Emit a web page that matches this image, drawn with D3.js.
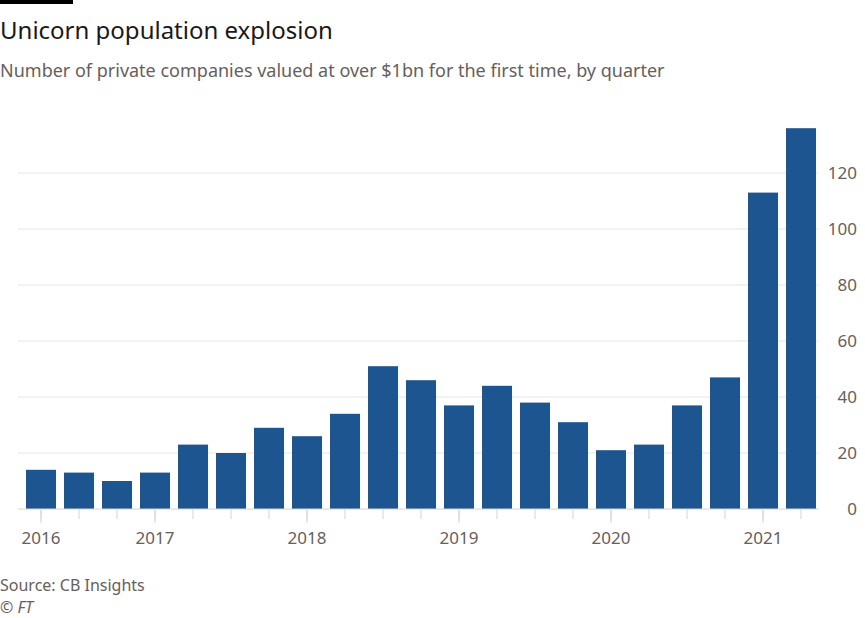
<!DOCTYPE html>
<html>
<head>
<meta charset="utf-8">
<script src="https://cdn.jsdelivr.net/npm/d3@7"></script>
<style>
  body { margin: 0; background: #fff; }
  svg text { font-family: "Noto Sans", "Open Sans", sans-serif; }
</style>
</head>
<body>
<div id="chart"></div>
<script>
// quarters, 2016 Q1 to 2021 Q1
const quarters = [
  '2016 Q1', '2016 Q2', '2016 Q3', '2016 Q4',
  '2017 Q1', '2017 Q2', '2017 Q3', '2017 Q4',
  '2018 Q1', '2018 Q2', '2018 Q3', '2018 Q4',
  '2019 Q1', '2019 Q2', '2019 Q3', '2019 Q4',
  '2020 Q1', '2020 Q2', '2020 Q3', '2020 Q4',
  '2021 Q1'
]
const unicorns = [14, 13, 10, 13, 23, 20, 29, 26, 34, 51, 46, 37, 44, 38, 31, 21, 23, 37, 47, 113, 136]
// year labels sit on these bars
const yearTickAt = ['2016 Q1', '2016 Q4', '2017 Q4', '2018 Q4', '2019 Q4', '2020 Q4']
const yearLabels = ['2016', '2017', '2018', '2019', '2020', '2021']
const yTicks = [0, 20, 40, 60, 80, 100, 120]

const w = 865
const h = 618
const margin = { top: 110, right: 45, bottom: 109, left: 22 }
const height = h - margin.top - margin.bottom

const svg = d3.select('#chart').append('svg')
  .attr('width', w)
  .attr('height', h)

svg.append('rect').attr('x', 0).attr('y', 0).attr('width', 73).attr('height', 4).attr('fill', '#000')

svg.append('text')
  .attr('x', 0).attr('y', 39)
  .attr('font-size', 24)
  .attr('fill', '#1a1817')
  .text('Unicorn population explosion')

svg.append('text')
  .attr('x', 0).attr('y', 77)
  .attr('font-size', 18)
  .attr('fill', '#66605c')
  .text('Number of private companies valued at over $1bn for the first time, by quarter')

svg.append('text')
  .attr('x', 0).attr('y', 591)
  .attr('font-size', 16)
  .attr('fill', '#66605c')
  .text('Source: CB Insights')

svg.append('text')
  .attr('x', 0).attr('y', 613)
  .attr('font-size', 16)
  .attr('font-style', 'italic')
  .attr('fill', '#66605c')
  .text('© FT')

const g = svg.append('g').attr('transform', 'translate(' + margin.left + ',' + margin.top + ')')

const x = d3.scaleBand()
  .domain(quarters)
  .range([0, 798])
  .paddingInner(0.21)
  .paddingOuter(0.105)

const y = d3.scaleLinear().domain([0, 140]).range([height, height - 140 * 2.8])

// gridlines
g.append('g')
  .selectAll('line')
  .data(yTicks.filter(d => d > 0))
  .enter().append('line')
  .attr('x1', -4).attr('x2', 797)
  .attr('y1', d => y(d)).attr('y2', d => y(d))
  .attr('stroke', '#e8e6e3')
  .attr('stroke-width', 1)

// y axis on the right
const yAxis = g.append('g')
  .attr('transform', 'translate(' + (w - margin.left) + ',0)')
  .call(d3.axisLeft(y).tickValues(yTicks).tickSize(0).tickPadding(1))
yAxis.select('.domain').remove()
yAxis.selectAll('text')
  .attr('font-size', 17)
  .attr('fill', '#66605c')
  .attr('text-anchor', 'end')
  .attr('dx', -7)

g.selectAll('.bar')
  .data(unicorns)
  .enter().append('rect')
  .attr('class', 'bar')
  .attr('x', (d, i) => x(quarters[i]))
  .attr('width', x.bandwidth())
  .attr('y', d => y(d))
  .attr('height', d => y(0) - y(d))
  .attr('fill', '#1d5590')

// baseline
g.append('line')
  .attr('x1', -4).attr('x2', 797)
  .attr('y1', y(0)).attr('y2', y(0))
  .attr('stroke', '#d6d3cf')

// x ticks
const xAxis = g.append('g')
  .attr('transform', 'translate(0,' + (height + 1) + ')')
  .call(d3.axisBottom(x).tickSize(9).tickFormat(''))
xAxis.select('.domain').remove()
xAxis.selectAll('line').attr('stroke', '#d6d3cf')

const xYears = g.append('g')
  .attr('transform', 'translate(0,' + (height + 1) + ')')
  .call(d3.axisBottom(x).tickValues(yearTickAt).tickSize(13).tickPadding(9)
    .tickFormat((d, i) => yearLabels[i]))
xYears.select('.domain').remove()
xYears.selectAll('line').attr('stroke', '#d6d3cf')
xYears.selectAll('text')
  .attr('font-size', 17)
  .attr('fill', '#66605c')
</script>
</body>
</html>
